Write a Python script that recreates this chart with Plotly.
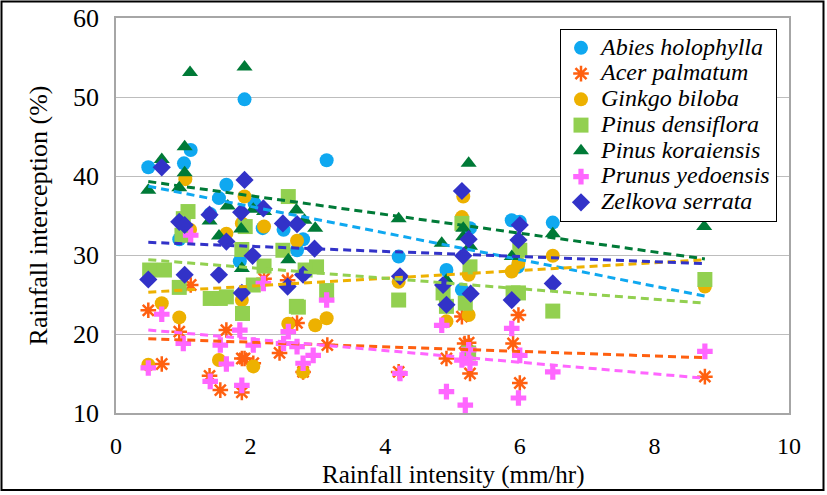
import plotly.graph_objects as go

# ---------------- data ----------------
species = ["Abies holophylla", "Acer palmatum", "Ginkgo biloba", "Pinus densiflora",
           "Pinus koraiensis", "Prunus yedoensis", "Zelkova serrata"]

abies_x = [0.48, 1.01, 1.11, 1.91, 1.64, 1.53, 1.40, 2.06, 2.18, 0.94, 1.84, 3.13, 2.78, 2.69,
           2.49, 4.20, 4.91, 5.14, 5.26, 5.88, 6.00, 6.49, 5.97]
abies_y = [41.1, 41.6, 43.3, 49.7, 38.9, 37.2, 35.2, 36.5, 33.4, 32.0, 29.2, 42.0, 32.0, 30.6,
           33.2, 29.8, 28.1, 25.6, 33.4, 34.4, 34.2, 34.1, 28.5]

acer_x = [0.48, 0.68, 1.11, 0.94, 1.39, 1.55, 1.64, 1.87, 1.91, 1.87, 2.04, 2.20, 2.43, 2.55,
          2.69, 2.78, 3.14, 4.20, 4.91, 5.14, 5.18, 5.24, 5.26, 5.90, 5.98, 6.00, 8.75]
acer_y = [23.0, 16.2, 26.2, 20.3, 14.7, 12.9, 20.5, 16.9, 16.9, 12.6, 16.3, 27.0, 17.6, 26.8,
          21.4, 15.2, 18.6, 15.2, 16.9, 22.2, 18.8, 18.9, 15.0, 18.8, 22.4, 13.8, 14.6]

ginkgo_x = [0.68, 0.94, 0.48, 1.53, 2.04, 1.87, 1.10, 1.64, 2.20, 1.03, 1.91, 1.87, 2.56, 2.69,
            2.96, 3.13, 2.78, 4.20, 5.16, 5.14, 5.24, 5.24, 4.91, 5.88, 5.98, 6.49, 8.75]
ginkgo_y = [23.9, 22.1, 16.1, 16.7, 15.9, 24.3, 33.2, 32.7, 33.6, 39.6, 37.4, 34.0, 21.3, 31.8,
            21.1, 22.0, 15.2, 26.6, 37.4, 34.8, 27.5, 22.4, 21.6, 27.9, 29.0, 29.9, 26.0]

densiflora_x = [0.50, 0.72, 0.94, 1.07, 1.00, 0.98, 1.40, 1.55, 1.64, 1.88, 1.87, 2.20, 2.04,
                2.48, 1.92, 2.68, 2.56, 2.98, 2.81, 3.13, 2.71, 4.20, 4.86, 4.91, 5.19, 5.26,
                5.14, 6.00, 5.98, 5.90, 6.49, 5.24, 8.75]
densiflora_y = [28.1, 28.1, 25.9, 35.5, 34.6, 32.5, 24.5, 24.5, 24.7, 22.6, 30.7, 28.6, 26.2,
                30.6, 33.6, 23.5, 37.4, 28.5, 28.1, 25.5, 23.4, 24.3, 25.2, 23.5, 23.9, 28.5,
                34.0, 30.6, 25.2, 25.2, 22.9, 17.6, 26.9]

koraiensis_x = [1.10, 1.91, 0.48, 0.68, 1.02, 1.02, 0.94, 1.66, 2.04, 2.20, 2.68, 1.39, 1.86,
                1.53, 1.87, 2.80, 2.96, 2.56, 4.20, 5.24, 4.84, 5.16, 5.16, 5.26, 4.91, 5.88,
                6.49, 8.74]
koraiensis_y = [53.1, 53.8, 38.2, 42.1, 43.7, 40.4, 38.5, 36.2, 35.8, 35.5, 35.7, 34.3, 33.3,
                32.4, 28.3, 34.4, 33.4, 29.4, 34.6, 41.6, 31.5, 33.4, 32.3, 31.1, 26.8, 29.8,
                32.7, 33.6]

prunus_x = [0.48, 0.68, 1.00, 1.40, 1.55, 1.64, 1.84, 1.87, 2.04, 2.19, 1.11, 2.56, 2.49, 2.69,
            2.78, 2.93, 3.13, 4.22, 4.84, 4.91, 5.14, 5.26, 5.19, 5.24, 5.88, 6.00, 5.98, 6.49,
            8.75]
prunus_y = [15.7, 22.5, 18.8, 14.0, 18.6, 16.2, 20.5, 13.5, 18.6, 26.4, 32.5, 20.3, 18.8, 18.4,
            16.3, 17.3, 24.3, 15.0, 21.1, 12.7, 16.7, 16.3, 11.0, 18.0, 20.7, 17.3, 11.9, 15.2,
            17.8]

zelkova_x = [0.68, 1.91, 0.94, 1.02, 1.39, 1.86, 2.19, 1.64, 2.03, 0.48, 1.02, 1.53, 1.87, 2.48,
             2.69, 2.95, 2.78, 2.55, 4.22, 5.14, 5.24, 5.16, 5.27, 4.86, 4.91, 6.00, 5.98, 5.88,
             6.49]
zelkova_y = [41.1, 39.5, 34.2, 33.8, 35.1, 35.4, 35.9, 31.7, 29.9, 26.9, 27.5, 27.5, 25.2, 34.0,
             33.9, 30.8, 27.5, 26.0, 27.3, 38.1, 32.0, 29.9, 25.1, 26.2, 23.7, 33.8, 31.9, 24.3,
             26.4]

# trend lines: value at start and end of the data range
trend_x = [0.48, 8.75]
trend_start = [38.7, 19.4, 25.3, 29.4, 39.3, 20.5, 31.6]
trend_end = [24.8, 17.0, 29.4, 23.9, 29.5, 14.4, 28.9]

x_ticks = [0, 2, 4, 6, 8, 10]
y_ticks = [10, 20, 30, 40, 50, 60]
x_title = "Rainfall intensity (mm/hr)"
y_title = "Rainfall interception (%)"

# ---------------- style ----------------
colors = ["#0FA8F0", "#FF6010", "#EDB100", "#92D050", "#007A37", "#FF66FF", "#3232C8"]
symbols = ["circle", "asterisk", "circle", "square", "triangle-up", "cross", "diamond"]
sizes = [14, 13, 14, 15, 14, 13, 14]

xs = [abies_x, acer_x, ginkgo_x, densiflora_x, koraiensis_x, prunus_x, zelkova_x]
ys = [abies_y, acer_y, ginkgo_y, densiflora_y, koraiensis_y, prunus_y, zelkova_y]

font = "'Times New Roman', 'Liberation Serif', serif"

fig = go.Figure()
for name, x, y, c, s, sz in zip(species, xs, ys, colors, symbols, sizes):
    if s == "asterisk":
        marker = dict(symbol=s, size=sz, color=c, line=dict(color=c, width=2.5))
    else:
        marker = dict(symbol=s, size=sz, color=c, line=dict(width=0))
    fig.add_trace(go.Scatter(
        x=x, y=y, mode="markers",
        name="<span style='font-size:24px'><i>" + name + "</i></span>",
        marker=marker))

for c, y0, y1 in zip(colors, trend_start, trend_end):
    fig.add_trace(go.Scatter(x=trend_x, y=[y0, y1], mode="lines", showlegend=False,
                             hoverinfo="skip",
                             line=dict(color=c, width=3, dash="8px,5px")))

# layout geometry (pixels)
W, H = 827, 495
L, R, T, B = 116, 789, 18, 413.5

tf = dict(family=font, size=26, color="black")
xf = dict(family=font, size=24, color="black")

fig.update_layout(
    width=W, height=H,
    margin=dict(l=L, r=W - R, t=T, b=H - B, pad=0, autoexpand=False),
    paper_bgcolor="white", plot_bgcolor="white",
    font=dict(family=font, size=26, color="black"),
    showlegend=True,
    legend=dict(x=(560 - L) / (R - L), y=(B - 29) / (B - T), xanchor="left", yanchor="top",
                bgcolor="white", bordercolor="black", borderwidth=1,
                font=dict(family=font, size=17.5, color="black"),
                itemwidth=30, tracegroupgap=0),
    xaxis=dict(range=[0, 10], tickvals=x_ticks, ticks="", showgrid=False, automargin=False,
               showline=True, linecolor="#A6A6A6", linewidth=1.5, mirror=True,
               zeroline=False, tickfont=xf, ticklabelstandoff=10),
    yaxis=dict(range=[10, 60], tickvals=y_ticks, ticks="", showgrid=True, automargin=False,
               gridcolor="#BDBDBD", gridwidth=1,
               showline=True, linecolor="#A6A6A6", linewidth=1.5, mirror=True,
               zeroline=False, tickfont=tf, ticklabelstandoff=10,
               title=dict(text=y_title, font=tf, standoff=18)),
    annotations=[dict(text=x_title, xref="paper", yref="paper",
                      x=(452.5 - L) / (R - L), y=(B - 476) / (B - T),
                      xanchor="center", yanchor="middle", showarrow=False,
                      font=dict(family=font, size=25, color="black"))],
    shapes=[dict(type="rect", xref="paper", yref="paper",
                 x0=(1.5 - L) / (R - L), x1=(823.5 - L) / (R - L),
                 y0=(B - 490.5) / (B - T), y1=(B - 1.5) / (B - T),
                 line=dict(color="black", width=2), fillcolor="rgba(0,0,0,0)", layer="above")],
)

fig.write_html("out.html")
